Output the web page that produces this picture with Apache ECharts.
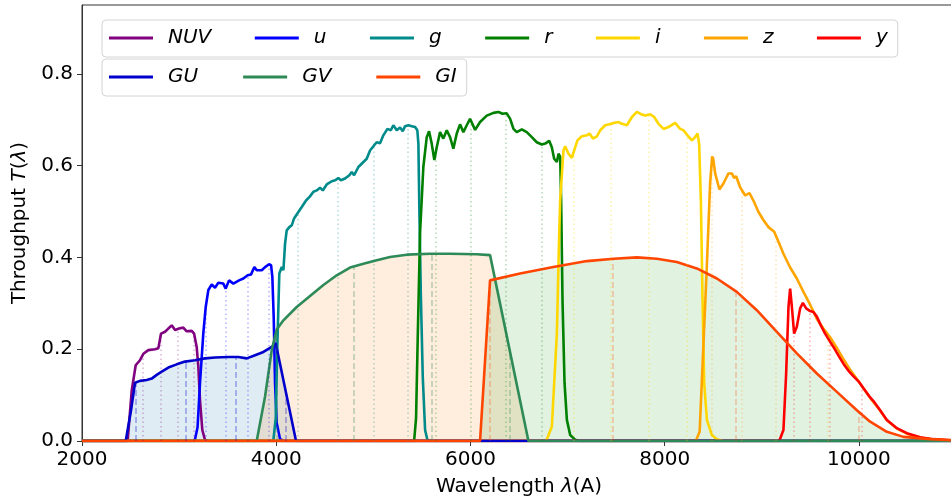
<!DOCTYPE html>
<html>
<head>
<meta charset="utf-8">
<script src="https://cdn.jsdelivr.net/npm/echarts@6/dist/echarts.min.js"></script>
<style>
  html, body { margin: 0; padding: 0; background: #fff; }
  #chart { width: 951px; height: 499px; }
</style>
</head>
<body>
<div id="chart"></div>
<script>
// Filter throughput curves: [wavelength (A), throughput]
const NUV = [[2000,0],[2470,0],[2512,0.11],[2553,0.165],[2597,0.176],[2632,0.19],[2683,0.198],[2752,0.2],[2786,0.202],[2814,0.234],[2855,0.238],[2889,0.245],[2924,0.252],[2958,0.242],[2999,0.245],[3043,0.247],[3078,0.239],[3130,0.24],[3154,0.234],[3181,0.205],[3198,0.162],[3215,0.089],[3239,0.024],[3267,0.002],[3300,0],[11000,0]];
const U = [[2000,0],[3160,0],[3190,0.03],[3215,0.126],[3249,0.234],[3274,0.292],[3301,0.329],[3336,0.341],[3370,0.334],[3404,0.345],[3455,0.343],[3480,0.332],[3514,0.35],[3559,0.343],[3617,0.35],[3662,0.354],[3706,0.361],[3741,0.363],[3775,0.379],[3799,0.372],[3851,0.372],[3885,0.379],[3926,0.385],[3947,0.383],[3960,0.358],[3974,0.27],[3988,0.126],[4005,0.039],[4040,0.004],[4080,0],[11000,0]];
const G = [[2000,0],[3970,0],[3995,0.05],[4012,0.213],[4032,0.365],[4057,0.379],[4074,0.372],[4091,0.43],[4108,0.459],[4135,0.466],[4160,0.47],[4184,0.485],[4228,0.499],[4263,0.51],[4307,0.524],[4348,0.533],[4383,0.543],[4417,0.546],[4451,0.552],[4479,0.546],[4520,0.559],[4572,0.566],[4606,0.568],[4640,0.573],[4665,0.568],[4709,0.572],[4753,0.579],[4778,0.586],[4802,0.579],[4846,0.597],[4898,0.608],[4932,0.615],[4966,0.633],[5007,0.644],[5035,0.651],[5069,0.649],[5103,0.666],[5145,0.68],[5180,0.677],[5206,0.688],[5241,0.677],[5275,0.683],[5303,0.675],[5327,0.686],[5361,0.688],[5396,0.686],[5430,0.684],[5453,0.677],[5464,0.648],[5474,0.503],[5489,0.321],[5509,0.14],[5533,0.024],[5557,0.002],[5600,0],[11000,0]];
const R = [[2000,0],[5420,0],[5440,0.05],[5458,0.234],[5481,0.452],[5515,0.597],[5550,0.662],[5574,0.675],[5601,0.648],[5628,0.612],[5653,0.64],[5687,0.673],[5721,0.659],[5756,0.677],[5790,0.662],[5824,0.637],[5859,0.67],[5893,0.69],[5927,0.673],[5962,0.688],[5996,0.702],[6048,0.678],[6099,0.695],[6168,0.709],[6237,0.715],[6288,0.717],[6330,0.713],[6374,0.714],[6409,0.702],[6443,0.68],[6477,0.673],[6529,0.679],[6580,0.673],[6632,0.662],[6683,0.651],[6735,0.646],[6770,0.648],[6811,0.654],[6838,0.64],[6862,0.615],[6890,0.608],[6907,0.626],[6924,0.619],[6934,0.524],[6948,0.307],[6969,0.126],[6993,0.046],[7027,0.013],[7078,0.003],[7120,0],[11000,0]];
const I = [[2000,0],[6780,0],[6838,0.031],[6890,0.234],[6914,0.452],[6924,0.524],[6958,0.633],[6975,0.642],[7010,0.626],[7044,0.617],[7068,0.633],[7102,0.655],[7147,0.664],[7199,0.666],[7226,0.67],[7261,0.659],[7302,0.664],[7336,0.677],[7388,0.688],[7432,0.69],[7474,0.693],[7525,0.695],[7560,0.691],[7611,0.688],[7663,0.706],[7714,0.717],[7756,0.712],[7800,0.709],[7851,0.712],[7892,0.706],[7937,0.691],[7988,0.68],[8039,0.684],[8108,0.693],[8159,0.68],[8193,0.677],[8235,0.666],[8280,0.655],[8314,0.662],[8338,0.67],[8355,0.648],[8373,0.524],[8390,0.307],[8407,0.126],[8435,0.046],[8486,0.013],[8538,0.004],[8600,0],[11000,0]];
const Z = [[2000,0],[8320,0],[8360,0.02],[8382,0.126],[8434,0.379],[8468,0.561],[8489,0.62],[8500,0.615],[8520,0.583],[8564,0.548],[8605,0.561],[8657,0.583],[8692,0.583],[8715,0.573],[8736,0.577],[8777,0.553],[8829,0.535],[8873,0.54],[8914,0.524],[8966,0.499],[9018,0.481],[9069,0.466],[9128,0.456],[9172,0.434],[9223,0.408],[9292,0.378],[9361,0.354],[9429,0.325],[9498,0.297],[9567,0.266],[9635,0.245],[9704,0.226],[9773,0.203],[9842,0.178],[9910,0.155],[9979,0.135],[10047,0.115],[10116,0.094],[10219,0.066],[10288,0.045],[10391,0.027],[10494,0.016],[10631,0.007],[10768,0.003],[10940,0.001],[11000,0]];
const Y = [[2000,0],[9180,0],[9223,0.024],[9251,0.147],[9275,0.292],[9292,0.332],[9310,0.292],[9333,0.234],[9361,0.249],[9395,0.289],[9423,0.301],[9457,0.289],[9491,0.284],[9532,0.281],[9567,0.271],[9608,0.252],[9652,0.234],[9704,0.216],[9738,0.205],[9790,0.186],[9842,0.168],[9893,0.153],[9945,0.141],[9996,0.13],[10047,0.115],[10116,0.095],[10150,0.087],[10219,0.067],[10288,0.046],[10391,0.028],[10494,0.017],[10631,0.008],[10768,0.004],[10940,0.0015],[11000,0.001]];
const GU = [[2000,0],[2450,0],[2505,0.067],[2546,0.127],[2597,0.131],[2666,0.133],[2718,0.136],[2769,0.144],[2821,0.151],[2889,0.16],[2975,0.167],[3061,0.173],[3164,0.176],[3267,0.18],[3370,0.182],[3507,0.183],[3610,0.183],[3696,0.18],[3782,0.187],[3868,0.194],[3954,0.205],[3995,0.213],[4204,0],[11000,0]];
const GV = [[2000,0],[3799,0],[3885,0.097],[3954,0.198],[4005,0.243],[4074,0.263],[4211,0.292],[4348,0.316],[4486,0.34],[4623,0.361],[4760,0.378],[4898,0.386],[5035,0.394],[5172,0.401],[5344,0.406],[5584,0.408],[5790,0.408],[6065,0.407],[6202,0.405],[6597,0],[11000,0]];
const GI = [[2000,0],[6099,0],[6202,0.35],[6511,0.365],[6854,0.379],[7199,0.392],[7474,0.397],[7714,0.4],[7920,0.397],[8125,0.39],[8331,0.376],[8538,0.354],[8743,0.325],[8949,0.285],[9155,0.238],[9361,0.191],[9567,0.147],[9773,0.107],[9979,0.067],[10116,0.042],[10288,0.02],[10459,0.009],[10734,0.004],[10940,0.002],[11000,0]];

// Wavelengths of the drop lines under each curve
const NUV_marks = [2621, 2810, 2981, 3154];
const U_marks = [3274, 3483, 3703, 3919];
const G_marks = [4218, 4634, 5001, 5355];
const R_marks = [5643, 6003, 6367, 6734];
const I_marks = [7061, 7449, 7837, 8228];
const Z_marks = [8485, 8794, 9148, 9676];
const Y_marks = [9327, 9494, 9697, 10025];
const GU_marks = [2555, 3070, 3585, 4100];
const GV_marks = [4002, 4802, 5602, 6402];
const GI_marks = [6202, 7466, 8733, 9999];

// Axis ticks
const lambdaTicks = [2000, 4000, 6000, 8000, 10000];
const throughputTicks = [0, 0.2, 0.4, 0.6, 0.8];

const bands = [
  { name: 'NUV', data: NUV, marks: NUV_marks, color: '#800080', drop: 'rgba(128,0,128,0.3)' },
  { name: 'u',   data: U,   marks: U_marks,   color: '#0000ff', drop: 'rgba(0,0,255,0.3)' },
  { name: 'g',   data: G,   marks: G_marks,   color: '#008b8b', drop: 'rgba(0,139,139,0.3)' },
  { name: 'r',   data: R,   marks: R_marks,   color: '#008000', drop: 'rgba(0,128,0,0.3)' },
  { name: 'i',   data: I,   marks: I_marks,   color: '#ffd700', drop: 'rgba(255,215,0,0.35)' },
  { name: 'z',   data: Z,   marks: Z_marks,   color: '#ffa500', drop: 'rgba(255,165,0,0.3)' },
  { name: 'y',   data: Y,   marks: Y_marks,   color: '#ff0000', drop: 'rgba(255,0,0,0.3)' },
  { name: 'GU',  data: GU,  marks: GU_marks,  color: '#0000cd', drop: 'rgba(0,0,205,0.35)', fill: 'rgba(31,119,180,0.2)' },
  { name: 'GV',  data: GV,  marks: GV_marks,  color: '#2e8b57', drop: 'rgba(46,139,87,0.35)', fill: 'rgba(255,127,14,0.2)' },
  { name: 'GI',  data: GI,  marks: GI_marks,  color: '#ff4500', drop: 'rgba(255,69,0,0.3)', fill: 'rgba(44,160,44,0.2)' }
];

// Linear lookup of a curve at wavelength x
function valueAt(curve, x) {
  for (let k = 1; k < curve.length; k++) {
    const a = curve[k - 1], b = curve[k];
    if (x >= a[0] && x <= b[0]) {
      const t = (x - a[0]) / (b[0] - a[0] || 1);
      return a[1] + t * (b[1] - a[1]);
    }
  }
  return 0;
}

const FONT = 'DejaVu Sans';
const FS = 20;

const series = bands.map(b => {
  const s = {
    type: 'line',
    name: b.name,
    data: b.data,
    symbol: 'none',
    showSymbol: false,
    animation: false,
    emphasis: { disabled: true },
    lineStyle: { color: b.color, width: 2.6 },
    itemStyle: { color: b.color },
    markLine: {
      silent: true,
      symbol: 'none',
      animation: false,
      label: { show: false },
      emphasis: { disabled: true },
      lineStyle: { color: b.drop, width: 1.5, type: b.fill ? [6, 3] : [1.5, 3] },
      data: b.marks.map(x => [{ coord: [x, 0] }, { coord: [x, valueAt(b.data, x)] }])
    }
  };
  if (b.fill) s.areaStyle = { color: b.fill, origin: 'start' };
  return s;
});

const legendCommon = {
  orient: 'horizontal',
  icon: 'rect',
  itemWidth: 44,
  itemHeight: 3,
  borderColor: '#d4d4d4',
  borderWidth: 1,
  borderRadius: 4,
  backgroundColor: 'rgba(255,255,255,0.8)',
  selectedMode: false,
  textStyle: { fontFamily: FONT, fontSize: FS, fontStyle: 'italic', color: '#000', padding: [0, 0, 0, 10] }
};

const chart = echarts.init(document.getElementById('chart'), null, { renderer: 'canvas' });
chart.setOption({
  backgroundColor: '#ffffff',
  animation: false,
  grid: {
    left: 82, top: 5, bottom: 58, right: -5,
    outerBoundsMode: 'none',
    containLabel: false,
    show: true, borderColor: '#333', borderWidth: 1, backgroundColor: 'transparent'
  },
  legend: [
    Object.assign({}, legendCommon, {
      left: 102, top: 20, itemGap: 43.5, padding: [8, 10, 9, 7],
      data: ['NUV', 'u', 'g', 'r', 'i', 'z', 'y']
    }),
    Object.assign({}, legendCommon, {
      left: 102, top: 59, itemGap: 45, padding: [8, 10, 9, 7],
      data: ['GU', 'GV', 'GI']
    })
  ],
  xAxis: {
    type: 'value',
    min: 2000, max: 11000,
    name: 'Wavelength {i|λ}(A)',
    nameLocation: 'middle',
    nameGap: 36,
    nameTextStyle: { fontFamily: FONT, fontSize: FS, color: '#000', rich: { i: { fontFamily: FONT, fontSize: FS, fontStyle: 'italic', color: '#000' } } },
    splitLine: { show: false },
    axisLine: { show: true, onZero: false, lineStyle: { color: '#333', width: 1 } },
    axisTick: { show: true, length: 5, lineStyle: { color: '#333' }, customValues: lambdaTicks },
    axisLabel: { fontFamily: FONT, fontSize: FS, color: '#000', margin: 9, customValues: lambdaTicks, formatter: v => String(v) }
  },
  yAxis: {
    type: 'value',
    min: 0, max: 0.95,
    name: 'Throughput {i|T}({i|λ})',
    nameLocation: 'middle',
    nameGap: 47,
    nameTextStyle: { fontFamily: FONT, fontSize: FS, color: '#000', rich: { i: { fontFamily: FONT, fontSize: FS, fontStyle: 'italic', color: '#000' } } },
    splitLine: { show: false },
    axisLine: { show: true, lineStyle: { color: '#333', width: 1 } },
    axisTick: { show: true, length: 5, lineStyle: { color: '#333' }, customValues: throughputTicks },
    axisLabel: { fontFamily: FONT, fontSize: FS, color: '#000', margin: 9, customValues: throughputTicks, formatter: v => v.toFixed(1) }
  },
  series: series
});
</script>
</body>
</html>
